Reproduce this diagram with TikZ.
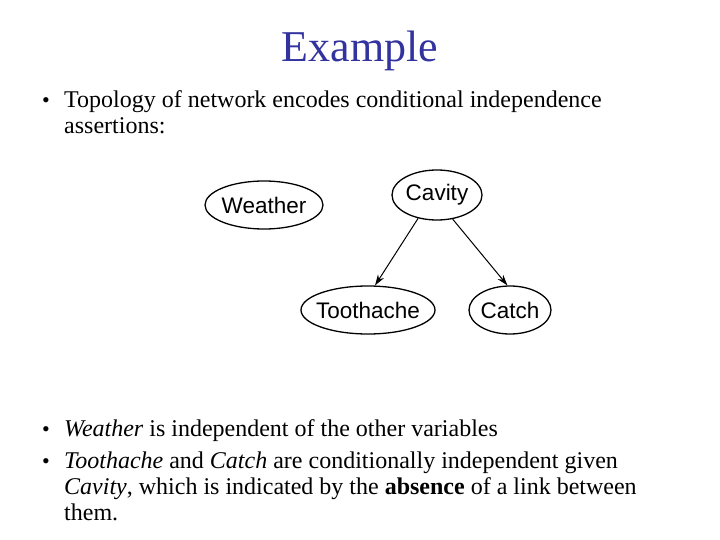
\documentclass[tikz,border=0pt]{standalone}
\usepackage{fontspec}
\setmainfont{Liberation Serif}
\newfontfamily\nodefont{Liberation Sans}
\usetikzlibrary{shapes.geometric,arrows.meta}
\definecolor{titleblue}{RGB}{51,51,160}
\tikzset{
  varnode/.style={draw, ellipse, line width=1.3pt, inner ysep=0pt, inner xsep=-6pt, font=\nodefont\fontsize{22.5}{26}\selectfont},
  link/.style={line width=1pt, -{Stealth[length=11pt,width=7pt]}},
  body/.style={anchor=base west, inner sep=0pt, font=\fontsize{24}{28}\selectfont},
  bul/.style={anchor=base, inner sep=0pt, font=\fontsize{22}{28}\selectfont}
}
\begin{document}
\begin{tikzpicture}[x=1pt,y=-1pt]
\useasboundingbox (0,0) rectangle (720,540);
\node[anchor=base, inner sep=0pt, text=titleblue, font=\fontsize{44}{50}\selectfont] (title) at (360,62) {Example};
\node[bul] (b1) at (46,108) {•};
\node[body] (t1) at (64,108) {Topology of network encodes conditional independence};
\node[body] (t1b) at (64,134) {assertions:};

\node[varnode, minimum width=118pt, minimum height=48pt] (weather) at (264,205) {Weather};
\node[varnode, minimum width=90pt, minimum height=50pt] (cavity) at (437,195) {Cavity};
\node[varnode, minimum width=134pt, minimum height=48pt] (tooth) at (368,310) {Toothache};
\node[varnode, minimum width=82pt, minimum height=48pt] (catch) at (510,310) {Catch};
\draw[link] (cavity.231) -- (tooth.74);
\draw[link] (cavity.303) -- (catch.96);

\node[bul] (b2) at (46,436) {•};
\node[body] (t2) at (64,436) {\textit{Weather} is independent of the other variables};
\node[bul] (b3) at (46,468) {•};
\node[body] (t3) at (64,468) {\textit{Toothache} and \textit{Catch} are conditionally independent given};
\node[body] (t3b) at (64,494) {\textit{Cavity}, which is indicated by the \textbf{absence} of a link between};
\node[body] (t3c) at (64,520) {them.};
\end{tikzpicture}
\end{document}
